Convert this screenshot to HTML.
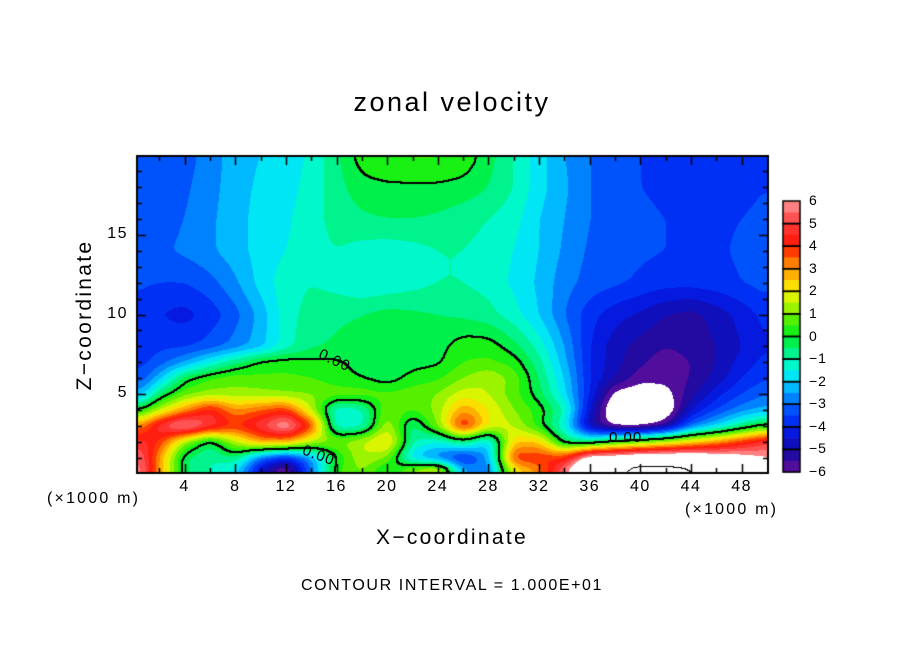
<!DOCTYPE html>
<html><head><meta charset="utf-8"><style>
html,body{margin:0;padding:0;background:#fff;}
body{width:904px;height:654px;position:relative;overflow:hidden;font-family:"Liberation Sans",sans-serif;color:#000;}
.t{position:absolute;white-space:nowrap;}
</style></head><body>
<div class="t" style="left:0;width:904px;text-align:center;top:87px;font-size:27px;letter-spacing:2.5px;">zonal velocity</div>
<canvas id="c" width="904" height="654" style="position:absolute;left:0;top:0"></canvas>
<div class="t" style="left:0;width:904px;text-align:center;top:526px;font-size:21px;letter-spacing:2.3px;">X−coordinate</div>
<div class="t" style="left:85px;top:315px;font-size:21px;letter-spacing:2.3px;transform:translate(-50%,-50%) rotate(-90deg);">Z−coordinate</div>
<div class="t" style="left:47px;top:490px;font-size:16px;letter-spacing:2.2px;">(×1000 m)</div>
<div class="t" style="left:685px;top:501px;font-size:16px;letter-spacing:2.2px;">(×1000 m)</div>
<div class="t" style="left:0;width:904px;text-align:center;top:577px;font-size:16px;letter-spacing:1.6px;">CONTOUR INTERVAL = 1.000E+01</div>
<div class="t" style="left:318px;top:352px;font-size:15px;letter-spacing:1px;transform:rotate(25deg);">0.00</div>
<div class="t" style="left:302px;top:447px;font-size:15px;letter-spacing:1px;transform:rotate(20deg);">0.00</div>
<div class="t" style="left:609px;top:429px;font-size:15px;letter-spacing:1px;">0.00</div>
<div id="labels"></div>
<script>
const xs=[0,2,4,6,8,10,12,14,16,18,20,22,24,26,28,30,32,34,36,38,40,42,44,46,48,50];
const zs=[20,18,16,14,12,10,8,7,6,5,4,3,2,1,0];
const u20=[-3.5,-3.5,-3.2,-2.8,-2.2,-2,-1.8,-1.4,-0.6,0.3,0.5,0.6,0.6,0.4,-0.3,-1,-1.8,-2.5,-3,-3.3,-3.5,-3.7,-4,-3.7,-3.6,-3.5];
const u18=[-3.4,-3.4,-3.1,-2.7,-2.2,-1.9,-1.7,-1.3,-0.7,-0.2,-0.1,-0.1,-0.1,-0.2,-0.5,-1,-1.8,-2.4,-3,-3.3,-3.5,-3.6,-3.9,-3.7,-3.6,-3.5];
const u16=[-3.3,-3.2,-3,-2.6,-2.2,-1.8,-1.6,-1.2,-0.8,-0.6,-0.5,-0.5,-0.6,-0.8,-1,-1.3,-2,-2.5,-3,-3.3,-3.4,-3.5,-3.6,-3.6,-3.5,-3.4];
const u14=[-3.3,-3.1,-2.9,-2.6,-2.2,-1.8,-1.5,-1.2,-1,-1.2,-1.3,-1.2,-1,-1,-1.2,-1.5,-2,-2.6,-3.1,-3.3,-3.4,-3.5,-3.6,-3.6,-3.4,-3.3];
const u12=[-3.4,-3.5,-3.5,-3.2,-2.6,-1.8,-1.2,-1,-1.2,-1.5,-1.4,-1.2,-1,-1,-1.2,-1.6,-2.1,-2.8,-3.2,-3.4,-3.6,-3.8,-3.8,-3.7,-3.5,-3.3];
const u10=[-3.6,-4,-4.2,-3.8,-3.2,-2.3,-1.2,-0.8,-0.6,-0.5,-0.3,-0.4,-0.5,-0.6,-0.8,-1.3,-2,-3,-3.8,-4.3,-4.6,-5,-5.2,-4.8,-4.3,-3.8];
const u8=[-3.8,-3.6,-3.6,-3.3,-2.8,-2.2,-1.2,-0.6,-0.4,-0.3,-0.2,-0.2,-0.2,0.3,0.3,-0.3,-1.2,-2.5,-4,-4.8,-5.2,-5.5,-5.3,-5,-4.5,-4];
const u7=[-3.8,-3.3,-2.5,-1.5,-0.6,0.2,0.3,0.2,0.1,-0.2,-0.3,-0.2,-0.1,0.5,0.6,0.3,-0.8,-2.3,-4,-4.8,-5.4,-5.8,-5.5,-5,-4.3,-3.8];
const u6=[-3.8,-2.2,-0.2,0.5,0.8,0.6,0.6,0.5,0.2,0,-0.3,0.2,0.4,1,1.5,0.8,-0.5,-2,-4,-5,-5.8,-5.8,-5.5,-4.8,-4,-3.5];
const u5=[-3,-0.5,0.8,1.2,1.2,1.2,1,1,0.8,0.8,0.6,0.8,1,1.8,1.5,0.7,-0.3,-1.8,-4,-6.3,-6.5,-6.3,-5.2,-4.2,-3.5,-3];
const u4=[-0.5,1.5,3,4.5,3,3.5,4,1.5,-1.5,-1.2,1,0.5,1.2,3,2,1,0.3,-1,-4.5,-7,-7.5,-6.8,-4.5,-3.5,-2.7,-2.3];
const u3=[2.5,5,6.5,5,4,5,6.5,4,-1.5,-1.3,1.5,-0.8,1,4.5,2,1.5,0.2,-1.5,-5,-6.3,-6.3,-5.5,-3,-2,-0.8,0.3];
const u2=[5,4,1.2,-0.5,1.5,3,3,1.5,1,1.5,2.5,-1,-1.5,-0.5,-2,2.5,2.5,-0.5,-0.8,0.3,0.8,1.5,2.2,3,4,5];
const u1=[6.5,3,-0.5,-1,-0.5,-3,-4,-2.5,0,1.5,1,-2,-3,-4,-2.5,4,4,4,7,7,7.5,7.5,7.5,7,6.5,6];
const u0=[7,3,-0.5,-1,-2,-5,-7,-3,0.5,1,-0.5,2,3.5,-2,-3,1.5,3,6,9,10,12,12,11,9,8,7];
const rows=[u20,u18,u16,u14,u12,u10,u8,u7,u6,u5,u4,u3,u2,u1,u0];
const xTicks=[4,8,12,16,20,24,28,32,36,40,44,48];
const yTicks=[5,10,15];
const cbLabels=[6,5,4,3,2,1,0,-1,-2,-3,-4,-5,-6];

const L=137,R=768,T=156,B=473;
const X=v=>134+12.66*v, Z=v=>473.5-15.9*v;
const ix=p=>(p-134)/12.66, iz=p=>(473.5-p)/15.9;
const stops=[[-6,[112,16,160]],[-5.5,[50,10,150]],[-5,[20,10,170]],[-4,[0,30,240]],[-3,[0,100,255]],[-2.5,[0,160,255]],[-2,[0,210,255]],[-1.5,[0,250,235]],[-1,[0,245,170]],[-0.5,[0,240,110]],[0,[0,240,40]],[0.5,[50,240,0]],[1,[120,240,0]],[1.5,[190,245,0]],[2,[245,245,0]],[2.5,[255,200,0]],[3,[255,150,0]],[3.5,[255,100,0]],[4,[255,20,0]],[5,[255,60,60]],[6,[255,150,150]]];
function col(v){
 if(v>6||v<-6)return[255,255,255];
 const q=Math.floor(v*2)/2+0.25;
 for(let i=0;i<stops.length-1;i++){const a=stops[i],b=stops[i+1];if(q>=a[0]&&q<=b[0]){const t=(q-a[0])/(b[0]-a[0]);return a[1].map((c,k)=>Math.round(c+(b[1][k]-c)*t));}}
 return stops[stops.length-1][1];
}
function val(x,z){
 x=Math.max(0,Math.min(50,x));z=Math.max(0,Math.min(20,z));
 let i=Math.min(xs.length-2,Math.floor(x/2));const tx=(x-xs[i])/2;
 let j=0;while(j<zs.length-2&&z<zs[j+1])j++;
 const tz=(zs[j]-z)/(zs[j]-zs[j+1]);
 const a=rows[j][i]*(1-tx)+rows[j][i+1]*tx, b=rows[j+1][i]*(1-tx)+rows[j+1][i+1]*tx;
 return a*(1-tz)+b*tz;
}
const cv=document.getElementById('c'),ctx=cv.getContext('2d');
const W=R-L,H=B-T;
const img=ctx.createImageData(W,H);
let V=new Float32Array(W*H);
for(let py=0;py<H;py++)for(let px=0;px<W;px++){V[py*W+px]=val(ix(L+px+0.5),iz(T+py+0.5));}
// smoothing (box blur passes)
function blur(A,r,horiz){const O=new Float32Array(W*H);
 for(let py=0;py<H;py++)for(let px=0;px<W;px++){let s=0,n=0;
  for(let d=-r;d<=r;d++){const qx=horiz?px+d:px,qy=horiz?py:py+d;if(qx<0||qy<0||qx>=W||qy>=H)continue;s+=A[qy*W+qx];n++;}
  O[py*W+px]=s/n;}
 return O;}
for(let k=0;k<2;k++){V=blur(V,6,true);V=blur(V,4,false);}
for(let p=0;p<W*H;p++){const c=col(V[p]);img.data[p*4]=c[0];img.data[p*4+1]=c[1];img.data[p*4+2]=c[2];img.data[p*4+3]=255;}
function mark(lv,thick){
 for(let py=0;py<H-1;py++)for(let px=0;px<W-1;px++){
  const a=V[py*W+px]-lv,b=V[py*W+px+1]-lv,c=V[(py+1)*W+px]-lv;
  if(a*b<=0&&!(a==0&&b==0)||a*c<=0&&!(a==0&&c==0)){
   const pts=thick?[[0,0],[1,0],[0,1],[1,1]]:[[0,0]];
   for(const[dx,dy]of pts){const q=((py+dy)*W+px+dx)*4;if(px+dx<W&&py+dy<H){img.data[q]=0;img.data[q+1]=0;img.data[q+2]=0;}}
  }
 }
}
mark(0,true);mark(10,false);mark(20,false);
ctx.putImageData(img,L,T);
ctx.strokeStyle='#000';ctx.lineWidth=2;ctx.strokeRect(L,T,W,H);
ctx.lineWidth=1.5;ctx.beginPath();
for(let v=2;v<50;v+=2){const x=Math.round(X(v))+0.5,len=v%4==0?9:5;ctx.moveTo(x,B);ctx.lineTo(x,B-len);ctx.moveTo(x,T);ctx.lineTo(x,T+len);}
for(let v=1;v<20;v++){const y=Math.round(Z(v))+0.5,len=v%5==0?9:5;ctx.moveTo(L,y);ctx.lineTo(L+len,y);ctx.moveTo(R,y);ctx.lineTo(R-len,y);}
ctx.stroke();
const cbL=783,cbR=800,cbT=201,cbB=472,cell=(cbB-cbT)/12;
for(let k=0;k<24;k++){const v=6-k*0.5-0.25;const c=col(v);ctx.fillStyle=`rgb(${c[0]},${c[1]},${c[2]})`;ctx.fillRect(cbL,cbT+k*cell/2,cbR-cbL,cell/2+0.5);}
ctx.lineWidth=1.5;ctx.strokeStyle='#000';
for(let k=0;k<12;k++)ctx.strokeRect(cbL,cbT+k*cell,cbR-cbL,cell);
const lab=document.getElementById('labels');
xTicks.forEach(v=>{const d=document.createElement('div');d.className='t';


d.style.cssText=`left:${X(v)-20}px;width:40px;text-align:center;top:478px;font-size:16px;letter-spacing:1.5px;`;d.textContent=v;lab.appendChild(d);});
yTicks.forEach(v=>{const d=document.createElement('div');d.className='t';


d.style.cssText=`left:88px;width:40px;text-align:right;top:${Z(v)-10}px;font-size:16px;letter-spacing:1.5px;`;d.textContent=v;lab.appendChild(d);});
cbLabels.forEach((v,k)=>{const d=document.createElement('div');d.className='t';


d.style.cssText=`left:809px;top:${cbT+k*cell-9}px;font-size:14px;letter-spacing:1px;`;d.textContent=v<0?'−'+(-v):v;lab.appendChild(d);});
</script>
</body></html>
